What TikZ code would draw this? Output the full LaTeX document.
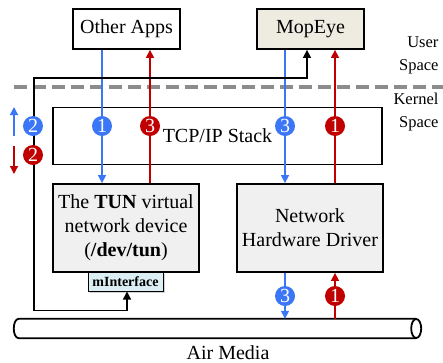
\documentclass[tikz,border=0pt]{standalone}
\usepackage{fontspec}
\setmainfont{Liberation Serif}
\usetikzlibrary{arrows.meta,shadows}
\definecolor{pktblue}{RGB}{58,118,245}
\definecolor{pktred}{RGB}{192,0,0}
\definecolor{boxgray}{RGB}{240,240,240}
\definecolor{mopbeige}{RGB}{238,236,225}
\definecolor{mifblue}{RGB}{218,238,243}
\definecolor{dashgray}{RGB}{140,140,140}
\begin{document}
\begin{tikzpicture}
[x=1pt,y=-1pt,
 boxdecorate/.style={draw,line width=1.8pt,inner sep=0pt,align=center,%
   font=\fontsize{20}{24}\selectfont},
 flowblue/.style={draw=pktblue,line width=1.4pt,-{Triangle[width=8pt,length=8pt]}},
 flowred/.style={draw=pktred,line width=1.4pt,-{Triangle[width=8pt,length=8pt]}},
 ctrldecorate/.style={line width=1.3pt,%
   {Triangle[width=8pt,length=8pt]}-{Triangle[width=8pt,length=8pt]}},
 badgedecorate/.style={shape=circle,inner sep=0pt,minimum size=20pt,text=white,%
   font=\fontsize{20}{20}\selectfont},
 spacelabel/.style={anchor=east,align=right,font=\fontsize{16.5}{23}\selectfont},
 tubedecorate/.style={line width=1.8pt}]
\useasboundingbox (0,0) rectangle (443,362);
%% boxes
\node (apps) at (126.5,29) [boxdecorate,minimum width=107pt,minimum height=40pt] {Other Apps};
\node (mopeye) at (310.5,29) [boxdecorate,fill=mopbeige,minimum width=107pt,minimum height=40pt] {MopEye};
\node (stack) at (217.5,136) [boxdecorate,minimum width=329pt,minimum height=57pt] {TCP/IP Stack};
\node (tun) at (126,228) [boxdecorate,fill=boxgray,minimum width=146pt,minimum height=88pt]
  {The \textbf{TUN} virtual\\network device\\(\textbf{/dev/tun})};
\node (driver) at (310,228) [boxdecorate,fill=boxgray,minimum width=146pt,minimum height=88pt]
  {Network\\Hardware Driver};
\node (mif) at (125.5,281.5) [draw,line width=1pt,fill=mifblue,
  drop shadow={opacity=0.35,shadow xshift=1.5pt,shadow yshift=-1.5pt},
  minimum width=75pt,minimum height=19pt,inner sep=0pt,
  font=\bfseries\fontsize{14}{14}\selectfont] {mInterface};
%% air media
\node (air) at (218,328.5) [minimum width=408pt,minimum height=19pt,inner sep=0pt] {};
\draw[tubedecorate] ([xshift=-6pt]air.north east) -- ([xshift=5pt]air.north west)
  .. controls ([xshift=-1.7pt]air.north west) and ([xshift=-1.7pt]air.south west)
  .. ([xshift=5pt]air.south west) -- ([xshift=-6pt]air.south east);
\draw[tubedecorate] ([xshift=-6pt]air.east) ellipse [x radius=5,y radius=9.5];
\node (airlbl) at (228,359) [anchor=base,inner sep=0pt,font=\fontsize{20}{24}\selectfont] {Air Media};
%% user / kernel split
\draw[line width=3.5pt,dashgray,dash pattern=on 13pt off 6pt] (14,87) -- (443,87);
\node (userlbl) at (442,55) [spacelabel] {User\\Space};
\node (kernellbl) at (442,112.5) [spacelabel] {Kernel\\Space};
%% packet flows
\draw[flowblue] ([xshift=-24.5pt]apps.south) -- ([xshift=-24.5pt]apps.south |- tun.north);
\draw[flowred] ([xshift=23.5pt]apps.south |- tun.north) -- ([xshift=23.5pt]apps.south);
\draw[flowblue] ([xshift=-25.5pt]mopeye.south) -- ([xshift=-25.5pt]mopeye.south |- driver.north);
\draw[flowred] ([xshift=24.5pt]mopeye.south |- driver.north) -- ([xshift=24.5pt]mopeye.south);
\draw[flowblue] ([xshift=-25pt]driver.south) -- ([xshift=-25pt]driver.south |- air.north);
\draw[flowred] ([xshift=25pt]driver.south |- air.north) -- ([xshift=25pt]driver.south);
\draw[ctrldecorate] ([xshift=1.5pt]mif.south) -- ++(0,19) -| (34,78) -| ([xshift=-3.5pt]mopeye.south);
%% direction hints
\coordinate (upfrom) at (14,136);
\coordinate (upto) at (14,107);
\coordinate (downfrom) at (14,146);
\coordinate (downto) at (14,174);
\draw[flowblue] (upfrom) -- (upto);
\draw[flowred] (downfrom) -- (downto);
%% step badges
\foreach \badgename/\x/\y/\col/\num in {
  a1/102/126/pktblue/1, a3/150/126/pktred/3, m3/285/126/pktblue/3,
  m1/335/126/pktred/1, d3/285/296/pktblue/3, d1/335/296/pktred/1,
  s2/33/126/pktblue/2, r2/33/155/pktred/2}
{
  \node (\badgename) at (\x,\y) [badgedecorate,fill=\col] {\num};
}
\end{tikzpicture}
\end{document}
